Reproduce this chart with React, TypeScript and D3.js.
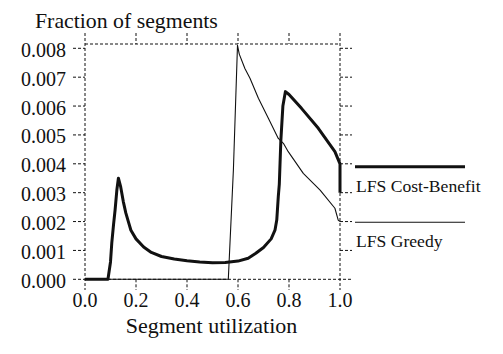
import * as d3 from "d3";

const X_TICKS = [0, 0.2, 0.4, 0.6, 0.8, 1.0];
const Y_TICKS = [0, 0.001, 0.002, 0.003, 0.004, 0.005, 0.006, 0.007, 0.008];

// LFS Cost-Benefit (thick)
const cbX = [0, 0.09, 0.1, 0.105, 0.112, 0.118, 0.125, 0.131, 0.14, 0.15, 0.16, 0.17, 0.18, 0.2, 0.23, 0.26, 0.3, 0.35, 0.4, 0.45, 0.5, 0.55, 0.6, 0.64, 0.67, 0.7, 0.73, 0.745, 0.752, 0.758, 0.762, 0.768, 0.776, 0.786, 0.8, 0.849, 0.915, 0.98, 1.0, 1.0];
const cbY = [0, 0, 0.0006, 0.00125, 0.0019, 0.0024, 0.0031, 0.0035, 0.0032, 0.0027, 0.0023, 0.002, 0.0017, 0.0014, 0.00112, 0.00093, 0.00079, 0.0007, 0.00064, 0.0006, 0.00057, 0.00058, 0.00063, 0.00073, 0.0009, 0.0011, 0.0014, 0.0017, 0.00205, 0.00286, 0.0033, 0.0048, 0.006, 0.0065, 0.0064, 0.00592, 0.00523, 0.00442, 0.004, 0.003];

// LFS Greedy (thin)
const grX = [0, 0.562, 0.582, 0.598, 0.605, 0.627, 0.647, 0.68, 0.719, 0.758, 0.778, 0.797, 0.856, 0.922, 0.98, 0.993, 1.0];
const grY = [0, 0, 0.0038, 0.0081, 0.0078, 0.0073, 0.00696, 0.00627, 0.00558, 0.00488, 0.00471, 0.00442, 0.00367, 0.00309, 0.00246, 0.00205, 0.002];

const INK = "#111";
const DASH = "3,2";

function T(props: { x: number; y: number; size: number; anchor?: string; children: any }) {
  return (
    <text
      x={props.x}
      y={props.y}
      textAnchor={props.anchor || "start"}
      fill={INK}
      style={{ fontFamily: '"Liberation Serif"', fontSize: props.size + "px" }}
    >
      {props.children}
    </text>
  );
}

export default function App() {
  const W = 503, H = 354;
  const left = 85, right = 340, top = 44, bottom = 279.3;

  const x = d3.scaleLinear().domain([0, 1]).range([left, right]);
  const y = d3.scaleLinear().domain([0, 0.008]).range([bottom, 48.3]);

  const cbPath = d3.line<number>().x((d) => x(d)).y((_, i) => y(cbY[i]))(cbX) || "";
  const grPath = d3.line<number>().x((d) => x(d)).y((_, i) => y(grY[i]))(grX) || "";

  return (
    <svg width={W} height={H} style={{ position: "fixed", left: 0, top: 0, background: "#fff" }}>
      {/* frame: top dashed line */}
      <line x1={left} x2={right} y1={top} y2={top} stroke={INK} strokeDasharray={DASH} />

      {/* x ticks: full lines at ends, short marks elsewhere */}
      {X_TICKS.map((t, i) => {
        const edge = i === 0 || i === X_TICKS.length - 1;
        const px = x(t);
        return (
          <g key={"x" + t}>
            {edge ? (
              <line x1={px} x2={px} y1={33} y2={290} stroke={INK} strokeDasharray={DASH} />
            ) : (
              <>
                <line x1={px} x2={px} y1={33} y2={top} stroke={INK} strokeDasharray={DASH} />
                <line x1={px} x2={px} y1={bottom} y2={290} stroke={INK} strokeDasharray={DASH} />
              </>
            )}
            <T x={px} y={307} size={20} anchor="middle">{t.toFixed(1)}</T>
          </g>
        );
      })}

      {/* y ticks */}
      {Y_TICKS.map((t, i) => {
        const py = y(t);
        return (
          <g key={"y" + t}>
            {i === 0 ? (
              <line x1={73} x2={352} y1={py} y2={py} stroke={INK} strokeDasharray={DASH} />
            ) : (
              <>
                <line x1={73} x2={left} y1={py} y2={py} stroke={INK} strokeDasharray={DASH} />
                <line x1={right} x2={352} y1={py} y2={py} stroke={INK} strokeDasharray={DASH} />
              </>
            )}
            <T x={66} y={py + 8.5} size={20} anchor="end">{t.toFixed(3)}</T>
          </g>
        );
      })}

      {/* series */}
      <path d={grPath} fill="none" stroke={INK} strokeWidth={1.1} strokeLinejoin="round" />
      <path d={cbPath} fill="none" stroke={INK} strokeWidth={3} strokeLinejoin="round" />

      {/* legend */}
      <line x1={355} x2={465} y1={166.7} y2={166.7} stroke={INK} strokeWidth={3} />
      <T x={356} y={192} size={17.6}>LFS Cost-Benefit</T>
      <line x1={355} x2={465} y1={222.3} y2={222.3} stroke={INK} strokeWidth={1.1} />
      <T x={356} y={247} size={17.6}>LFS Greedy</T>

      {/* titles */}
      <T x={35} y={28} size={21.8}>Fraction of segments</T>
      <T x={(left + right) / 2 - 1} y={333} size={22} anchor="middle">Segment utilization</T>
    </svg>
  );
}
